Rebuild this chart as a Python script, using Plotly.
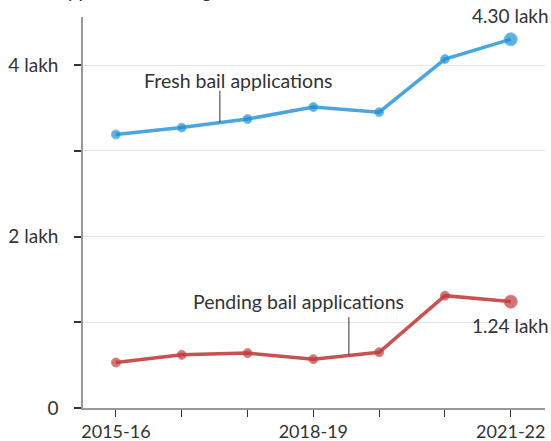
import plotly.graph_objects as go

years = ["2015-16", "2016-17", "2017-18", "2018-19", "2019-20", "2020-21", "2021-22"]
fresh = [3.19, 3.27, 3.37, 3.51, 3.45, 4.07, 4.30]
pending = [0.53, 0.62, 0.64, 0.57, 0.65, 1.31, 1.24]
x_tick_labels = ["2015-16", "", "", "2018-19", "", "", "2021-22"]
y_tick_vals = [0, 1, 2, 3, 4]
y_tick_labels = ["0", "", "2 lakh", "", "4 lakh"]

FONT = "Lato, 'Open Sans', sans-serif"
TXT = "#333333"
BLUE_LINE = "#4aa6df"
BLUE_MK = "#1a8fd6"
RED_LINE = "#c8524f"
RED_MK = "#c03a3e"

xi = list(range(len(years)))

fig = go.Figure()
fig.add_trace(go.Scatter(
    x=xi, y=fresh, mode="lines+markers",
    line=dict(color=BLUE_LINE, width=3.5),
    marker=dict(color=BLUE_MK, size=[9] * (len(xi) - 1) + [13]),
    hoverinfo="skip", showlegend=False,
))
fig.add_trace(go.Scatter(
    x=xi, y=pending, mode="lines+markers",
    line=dict(color=RED_LINE, width=3.5),
    marker=dict(color=RED_MK, size=[9] * (len(xi) - 1) + [13]),
    hoverinfo="skip", showlegend=False,
))

# leader lines for series labels
fig.add_shape(type="line", xref="x", yref="y", x0=1.58, x1=1.58, y0=3.33, y1=3.70,
              line=dict(color="#333333", width=1))
fig.add_shape(type="line", xref="x", yref="y", x0=3.54, x1=3.54, y0=0.62, y1=1.06,
              line=dict(color="#333333", width=1))

fig.add_annotation(x=1.87, y=3.82, xref="x", yref="y", text="Fresh bail applications",
                   showarrow=False, font=dict(family=FONT, size=19.5, color=TXT))
fig.add_annotation(x=2.78, y=1.24, xref="x", yref="y", text="Pending bail applications",
                   showarrow=False, font=dict(family=FONT, size=19.5, color=TXT))
fig.add_annotation(x=6, y=fresh[-1], xref="x", yref="y", text="4.30 lakh",
                   showarrow=False, yshift=24, font=dict(family=FONT, size=19, color=TXT))
fig.add_annotation(x=6, y=pending[-1], xref="x", yref="y", text="1.24 lakh",
                   showarrow=False, yshift=-24, font=dict(family=FONT, size=19, color=TXT))
# partially cropped title at the very top
fig.add_annotation(x=-0.135, y=1.034, xref="paper", yref="paper", xanchor="left", yanchor="bottom",
                   text="Bail applications in High Courts", showarrow=False,
                   font=dict(family=FONT, size=19, color=TXT))

fig.update_xaxes(
    range=[-0.5, 6.52], tickmode="array", tickvals=xi, ticktext=x_tick_labels,
    showline=True, linecolor="#999999", linewidth=1.5,
    ticks="outside", ticklen=7, tickcolor="#333333", tickwidth=1,
    showgrid=False, zeroline=False, automargin=False,
    tickfont=dict(family=FONT, size=18, color=TXT),
)
fig.update_yaxes(
    range=[0, 4.56], tickmode="array", tickvals=y_tick_vals, ticktext=y_tick_labels,
    showline=True, linecolor="#999999", linewidth=1.5,
    ticks="outside", ticklen=7, tickcolor="#333333", tickwidth=1.5,
    showgrid=True, gridcolor="#e6e9ea", gridwidth=1, zeroline=False, automargin=False,
    ticklabelstandoff=12,
    tickfont=dict(family=FONT, size=19, color=TXT),
)
fig.update_layout(
    width=551, height=441,
    margin=dict(l=83, r=6, t=17, b=33),
    paper_bgcolor="white", plot_bgcolor="white",
    font=dict(family=FONT, color=TXT),
)
fig.write_html("out.html", config={"displayModeBar": False},
               post_script="document.body.style.margin='0';document.body.style.overflow='hidden';")
